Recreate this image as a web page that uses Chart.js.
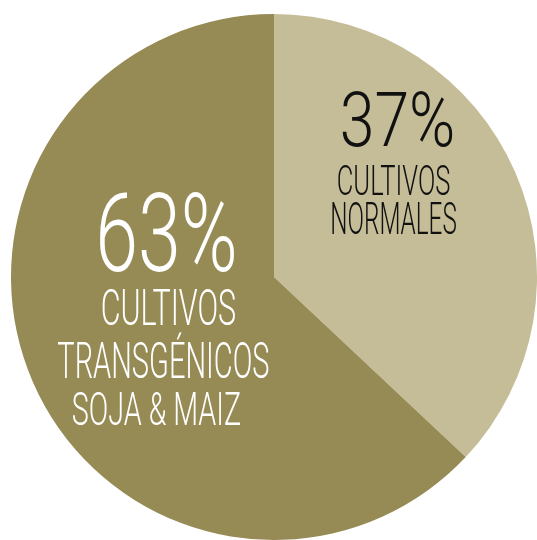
<!DOCTYPE html>
<html>
<head>
<meta charset="utf-8">
<script src="https://cdn.jsdelivr.net/npm/chart.js@4/dist/chart.umd.min.js"></script>
<style>
  html, body { margin: 0; padding: 0; background: #fff; overflow: hidden; }
  #wrap { width: 537px; height: 540px; }
</style>
</head>
<body>
<div id="wrap"><canvas id="pieChart"></canvas></div>
<script>
const categories = ["Cultivos normales", "Cultivos transgénicos soja & maiz"];
const shares = [37, 63];
const sliceColors = ["#c5bd97", "#968a55"];
const labelLines = [
  ["CULTIVOS", "NORMALES"],
  ["CULTIVOS", "TRANSGÉNICOS", "SOJA & MAIZ"]
];

// per-line placement, in px offset from the pie centre at r = 264
// [centreX, baseline, capHeight, width]
const textBoxes = [
  [[124, -132, 54, 116], [120, -82, 30, 114], [120, -43, 31, 127]],
  [[-108, -6, 78, 143], [-106, 48, 35, 136], [-111, 101, 35, 213], [-118, 149, 33, 170]]
];
const textColors = ["#111", "#fff"];

// draws the big percent + caption inside each slice, condensed like the original
const sliceText = {
  id: "sliceText",
  afterDatasetsDraw(chart) {
    const ctx = chart.ctx;
    const arcs = chart.getDatasetMeta(0).data;
    arcs.forEach((arc, i) => {
      const k = arc.outerRadius / 264;
      const lines = [shares[i] + "%"].concat(labelLines[i]);
      ctx.save();
      ctx.fillStyle = textColors[i];
      ctx.textAlign = "center";
      ctx.textBaseline = "alphabetic";
      lines.forEach((txt, j) => {
        const [dx, dy, cap, w] = textBoxes[i][j];
        ctx.save();
        ctx.font = "300 100px Roboto";
        const capRatio = ctx.measureText("H").actualBoundingBoxAscent / 100 || 0.711;
        ctx.font = "300 " + (cap * k / capRatio) + "px Roboto";
        const sx = (w * k) / ctx.measureText(txt).width;
        ctx.translate(arc.x + dx * k, arc.y + dy * k);
        ctx.scale(sx, 1);
        ctx.fillText(txt, 0, 0);
        ctx.restore();
      });
      ctx.restore();
    });
  }
};

new Chart(document.getElementById("pieChart"), {
  type: "pie",
  data: {
    labels: categories,
    datasets: [
      {
        data: shares,
        backgroundColor: sliceColors,
        borderWidth: 0,
      },
    ],
  },
  options: {
    responsive: true,
    maintainAspectRatio: false,
    animation: false,
    layout: { padding: { left: 11, right: -2, top: 14, bottom: -4 } },
    plugins: { legend: { display: false }, tooltip: { enabled: false } },
  },
  plugins: [sliceText],
});
</script>
</body>
</html>
